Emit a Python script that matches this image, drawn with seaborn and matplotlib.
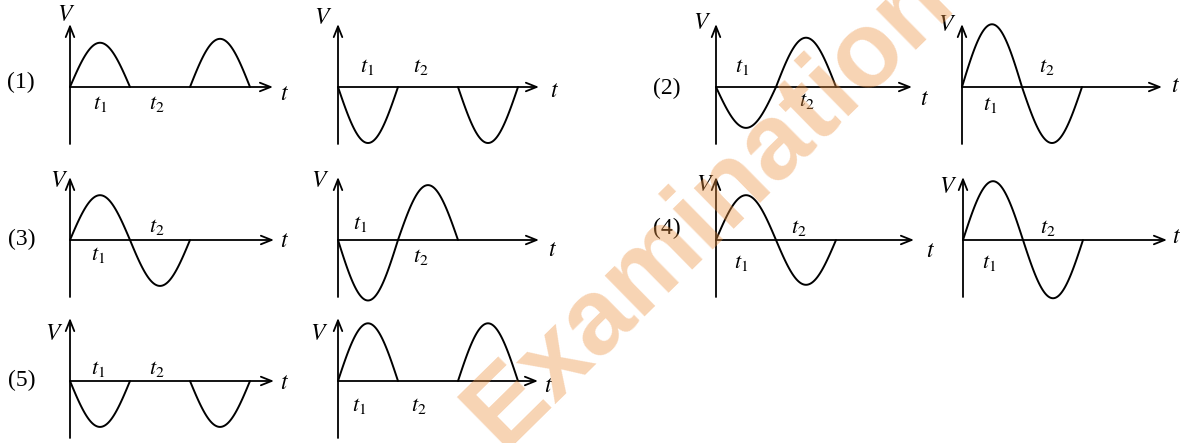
import numpy as np
import pandas as pd
import seaborn as sns
import matplotlib.pyplot as plt

sns.set_theme(style='white')
plt.rcParams['mathtext.fontset'] = 'stix'

W, H = 1183, 443          # picture size, px
PX_T = 60.0               # px per half period
PX_V = 56.0               # px per unit of V

# amplitude of every half period (0 = no curve there)
options = ['(1)', '(2)', '(3)', '(4)', '(5)']
amp_1a = [0.79, 0, 0.86]
amp_1b = [-1.0, 0, -1.0]
amp_2a = [-0.73, 0.88]
amp_2b = [1.12, -1.0]
amp_3a = [0.80, -0.82]
amp_3b = [-1.08, 0.98]
amp_4a = [0.80, -0.80]
amp_4b = [1.05, -1.04]
amp_5a = [-0.82, 0, -0.82]
amp_5b = [1.03, 0, 1.03]
amps = [amp_1a, amp_1b, amp_2a, amp_2b, amp_3a, amp_3b, amp_4a, amp_4b, amp_5a, amp_5b]

# layout (px): origin of each small graph, length of t axis
origins = [(70, 87), (338, 87), (716, 87), (962, 87),
           (70, 240), (338, 240), (716, 240), (963, 240),
           (70, 381), (338, 381)]
t_len = [203, 201, 196, 200, 204, 201, 198, 204, 204, 200]
# offsets (px) of labels from the origin / arrow tip
v_off = [(-4, -73), (-15, -70), (-14, -65), (-15, -63), (-11, -60),
         (-18, -60), (-11, -56), (-15, -54), (-16, -48), (-19, -48)]
t1_off = [(30, 17), (29, -20), (26, -20), (28, 18), (28, 15),
          (22, -16), (25, 23), (26, 23), (28, -12), (21, 25)]
t2_off = [(87, 17), (83, -20), (91, 14), (85, -20), (87, -13),
          (83, 17), (83, -12), (85, -12), (87, -12), (81, 25)]
tl_off = [(11, 6), (15, 3), (13, 11), (13, -2), (10, 0),
          (13, 9), (16, 10), (9, -4), (10, 1), (10, 4)]
opt_pos = [(21, 82), (667, 88), (22, 239), (667, 228), (22, 380)]

fig = plt.figure(figsize=(W / 100, H / 100), dpi=100)
fig.patch.set_facecolor('white')

txt = dict(ha='center', va='center', color='black', clip_on=False)

for i, a in enumerate(amps):
    x0, y0 = origins[i]
    ax = fig.add_axes([(x0 - 60) / W, 1 - (y0 + 80) / H, 300 / W, 160 / H])
    ax.set_xlim(-60 / PX_T, 240 / PX_T)
    ax.set_ylim(-80 / PX_V, 80 / PX_V)
    ax.set_axis_off()

    # curve, half period by half period
    parts = []
    for k, amp in enumerate(a):
        if amp == 0:
            continue
        u = np.linspace(0, 1, 80)
        parts.append(pd.DataFrame({'t': k + u, 'V': amp * np.sin(np.pi * u), 'half': k}))
    df = pd.concat(parts)
    sns.lineplot(data=df, x='t', y='V', units='half', estimator=None,
                 color='black', lw=1.4, ax=ax, legend=False)

    # axes with arrows
    arr = dict(arrowstyle='->,head_length=0.55,head_width=0.22', color='black',
               lw=1.3, shrinkA=0, shrinkB=0, mutation_scale=14)
    ax.annotate('', xy=(t_len[i] / PX_T, 0), xytext=(0, 0), arrowprops=arr)
    ax.annotate('', xy=(0, 63 / PX_V), xytext=(0, -57 / PX_V), arrowprops=arr)

    ax.text(v_off[i][0] / PX_T, -v_off[i][1] / PX_V, r'$V$', fontsize=17, **txt)
    ax.text((t_len[i] + tl_off[i][0]) / PX_T, -tl_off[i][1] / PX_V, r'$t$', fontsize=17, **txt)
    ax.text(t1_off[i][0] / PX_T, -t1_off[i][1] / PX_V, r'$t_1$', fontsize=16, **txt)
    ax.text(t2_off[i][0] / PX_T, -t2_off[i][1] / PX_V, r'$t_2$', fontsize=16, **txt)

for name, (x, y) in zip(options, opt_pos):
    fig.text(x / W, 1 - y / H, name, fontsize=17, family='Liberation Serif',
             ha='center', va='center', color='black')

# watermark on top, translucent so lines under it turn brown
fig.text(608 / W, 1 - 314 / H, 'Public Examinations', rotation=44.5,
         fontsize=77, fontweight='bold', family='Liberation Sans',
         color='#ed9343', alpha=0.4, ha='center', va='center', zorder=10)

fig.savefig('out.png', dpi=100, facecolor='white')
